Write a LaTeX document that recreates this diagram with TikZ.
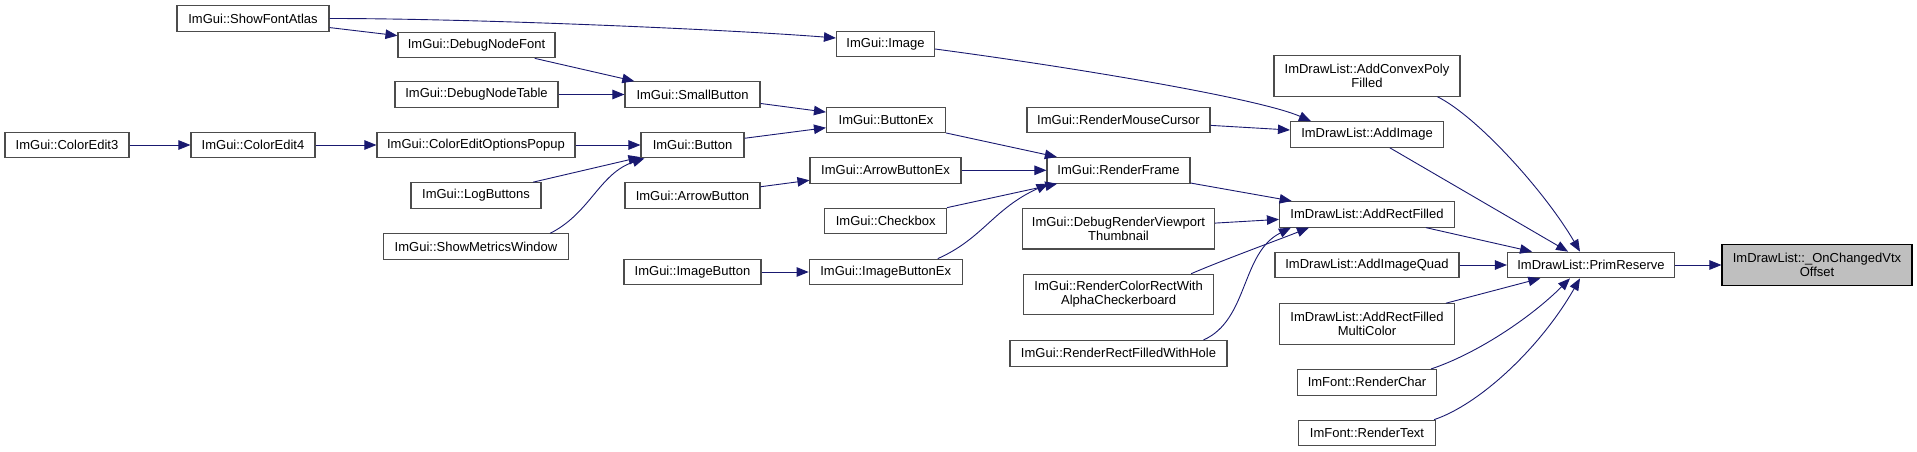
\documentclass[tikz,border=0pt]{standalone}
\usepackage{fontspec}
\setmainfont{Liberation Sans}
\usepackage{tikz}
\usetikzlibrary{arrows.meta}
\usepackage{xcolor}
\definecolor{edgeblue}{HTML}{191970}

\begin{document}
\begin{tikzpicture}[x=1pt, y=-1pt,
  % Node Styles
  fnode/.style={rectangle, draw=black!70, line width=1.1pt, fill=white, text=black, minimum height=25.6pt, inner sep=0pt, align=center, font=\fontsize{13}{14}\selectfont},
  tnode/.style={fnode, minimum height=40.5pt},
  focus/.style={tnode, draw=black, fill=black!25},
  % Arrow Styles
  callarrow/.style={-{Triangle[length=12pt,width=9.5pt]}, edgeblue, line width=0.9pt}
]
\useasboundingbox (0,0) rectangle (1917,452);

% Call graph for: ImDrawList::_OnChangedVtxOffset

\node[fnode, minimum width=152pt] (sfa) at (253,18.5) {ImGui::ShowFontAtlas};
\node[fnode, minimum width=157pt] (dnf) at (476.5,45) {ImGui::DebugNodeFont};
\node[fnode, minimum width=163pt] (dnt) at (476.5,94.5) {ImGui::DebugNodeTable};
\node[fnode, minimum width=124pt] (ce3) at (67,145) {ImGui::ColorEdit3};
\node[fnode, minimum width=124pt] (ce4) at (253,145) {ImGui::ColorEdit4};
\node[fnode, minimum width=198pt] (ceo) at (476,145) {ImGui::ColorEditOptionsPopup};
\node[fnode, minimum width=130pt] (lgb) at (476,195.5) {ImGui::LogButtons};
\node[fnode, minimum width=185pt] (smw) at (476,246.7) {ImGui::ShowMetricsWindow};

\node[fnode, minimum width=98pt] (img) at (885.5,44) {ImGui::Image};
\node[fnode, minimum width=135pt] (smb) at (692.5,94.5) {ImGui::SmallButton};
\node[fnode, minimum width=119pt] (bex) at (886,120) {ImGui::ButtonEx};
\node[fnode, minimum width=103pt] (btn) at (692.5,145) {ImGui::Button};
\node[fnode, minimum width=151pt] (abx) at (885.5,170.3) {ImGui::ArrowButtonEx};
\node[fnode, minimum width=135pt] (arb) at (692.5,195.7) {ImGui::ArrowButton};
\node[fnode, minimum width=122pt] (chk) at (885.7,221) {ImGui::Checkbox};
\node[fnode, minimum width=137pt] (imb) at (692.5,272) {ImGui::ImageButton};
\node[fnode, minimum width=153pt] (ibx) at (885.7,272) {ImGui::ImageButtonEx};

\node[fnode, minimum width=183pt] (rmc) at (1118.5,120) {ImGui::RenderMouseCursor};
\node[fnode, minimum width=143pt] (rfr) at (1118.5,170.3) {ImGui::RenderFrame};
\node[tnode, minimum width=192pt] (drv) at (1118.5,228.7) {ImGui::DebugRenderViewport\\Thumbnail};
\node[tnode, minimum width=190pt] (rcr) at (1118.6,294.5) {ImGui::RenderColorRectWith\\AlphaCheckerboard};
\node[fnode, minimum width=217pt] (rrh) at (1118.5,353.3) {ImGui::RenderRectFilledWithHole};

\node[tnode, minimum width=186pt] (acp) at (1367,76) {ImDrawList::AddConvexPoly\\Filled};
\node[fnode, minimum width=153pt] (adi) at (1367,134.5) {ImDrawList::AddImage};
\node[fnode, minimum width=175pt] (arf) at (1367,214.3) {ImDrawList::AddRectFilled};
\node[fnode, minimum width=184pt] (aiq) at (1367,265) {ImDrawList::AddImageQuad};
\node[tnode, minimum width=175pt] (arm) at (1367,324) {ImDrawList::AddRectFilled\\MultiColor};
\node[fnode, minimum width=139pt] (rch) at (1367,382.3) {ImFont::RenderChar};
\node[fnode, minimum width=137pt] (rtx) at (1367,433) {ImFont::RenderText};

\node[fnode, minimum width=167pt] (prs) at (1591,265) {ImDrawList::PrimReserve};
\node[focus, minimum width=190pt] (onv) at (1817,265) {ImDrawList::\_OnChangedVtx\\Offset};

\draw[callarrow] (sfa) -- (dnf);
\draw[callarrow] (sfa.east) .. controls +(150,0) and +(-100,-8) .. ([yshift=6pt]img.west);
\draw[callarrow] (dnf) -- (smb);
\draw[callarrow] (dnt) -- (smb);
\draw[callarrow] (ce3) -- (ce4);
\draw[callarrow] (ce4) -- (ceo);
\draw[callarrow] (ceo) -- (btn);
\draw[callarrow] (lgb) -- (btn);
\draw[callarrow] ([xshift=-19pt]smw.north east) .. controls +(40,-20) and +(-45,15) .. ([xshift=4pt]btn.south west);
\draw[callarrow] (smb) -- (bex);
\draw[callarrow] (btn) -- (bex);
\draw[callarrow] (arb) -- (abx);
\draw[callarrow] (imb) -- (ibx);
\draw[callarrow] (bex) -- (rfr);
\draw[callarrow] (abx) -- (rfr);
\draw[callarrow] (chk) -- (rfr);
\draw[callarrow] ([xshift=-25pt]ibx.north east) .. controls +(45,-20) and +(-55,25) .. ([xshift=2pt]rfr.south west);
\draw[callarrow] ([yshift=-5pt]img.east) .. controls +(150,20) and +(-50,-22) .. ([xshift=21pt]adi.north west);
\draw[callarrow] (rmc) -- (adi);
\draw[callarrow] (rfr) -- (arf);
\draw[callarrow] (drv) -- (arf);
\draw[callarrow] ([xshift=-23pt]rcr.north east) .. controls +(35,-15) and +(-30,12) .. ([xshift=30pt]arf.south west);
\draw[callarrow] ([xshift=-24pt]rrh.north east) .. controls +(45,-20) and +(-50,25) .. ([xshift=12pt]arf.south west);
\draw[callarrow] ([xshift=-23pt]acp.south east) .. controls +(40,20) and +(-35,-60) .. ([xshift=-11pt]prs.north);
\draw[callarrow] (adi) -- (prs);
\draw[callarrow] (arf) -- (prs);
\draw[callarrow] (aiq) -- (prs);
\draw[callarrow] (arm) -- (prs);
\draw[callarrow] ([xshift=-6pt]rch.north east) .. controls +(45,-15) and +(-40,40) .. ([xshift=-21pt]prs.south);
\draw[callarrow] ([xshift=-2pt]rtx.north east) .. controls +(45,-15) and +(-40,70) .. ([xshift=-11pt]prs.south);
\draw[callarrow] (prs) -- (onv);

\end{tikzpicture}
\end{document}
